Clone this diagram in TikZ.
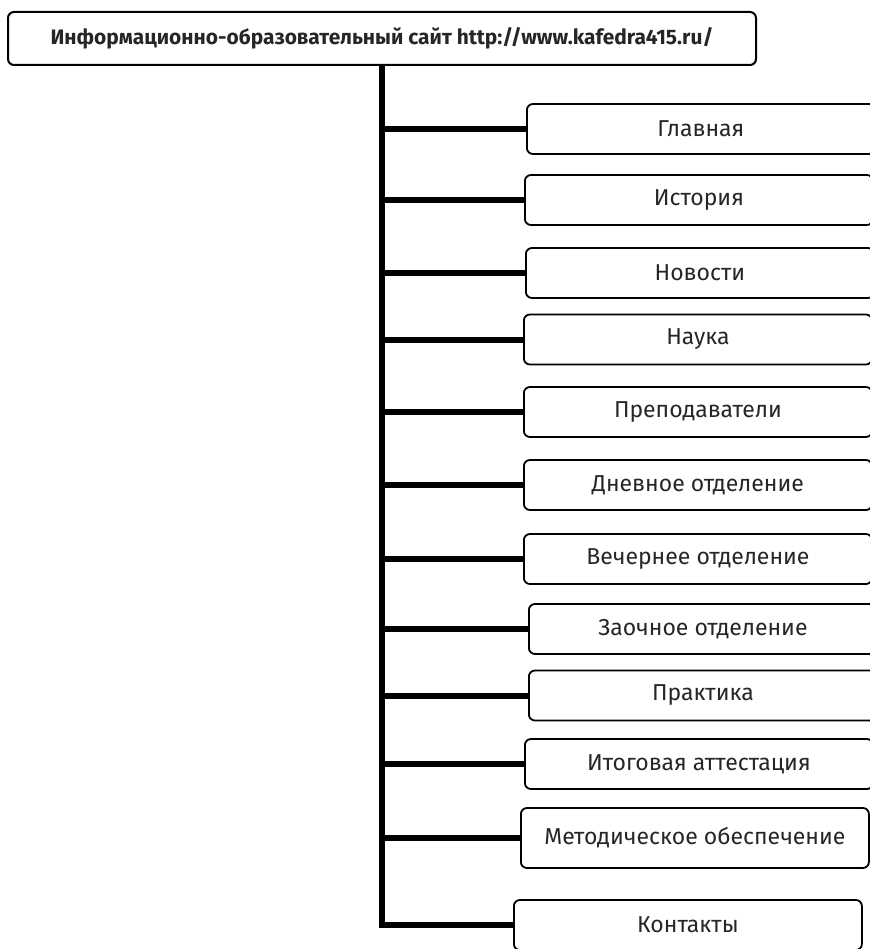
\documentclass[tikz,border=0pt]{standalone}
\usepackage{fontspec}
\setmainfont{Fira Sans}
\usetikzlibrary{positioning}
\tikzset{
  site/.style={draw, rounded corners=6pt, line width=2pt, align=center, minimum height=53pt, minimum width=748pt, font=\fontsize{20.9}{24}\selectfont\bfseries, text=black!85},
  item/.style={draw, rounded corners=6pt, line width=1.8pt, align=center, minimum height=50pt, minimum width=348pt, anchor=west, font=\fontsize{23}{26}\selectfont, text=black!85},
  trunk/.style={line width=6.5pt, line join=miter},
  branch/.style={line width=6pt}
}
\begin{document}
\begin{tikzpicture}[x=1pt, y=-1pt]
    \useasboundingbox (0,0) rectangle (869,949);
    \node[site] (site) at (382,38.5) {Информационно-образовательный сайт http://www.kafedra415.ru/};
    \node[item] (glav) at (526,129) {Главная};
    \node[item] (hist) at (524,200) {История};
    \node[item] (news) at (525,273) {Новости};
    \node[item] (sci) at (523,339.5) {Наука};
    \node[item] (teach) at (523,412) {Преподаватели};
    \node[item] (day) at (523,485) {Дневное отделение};
    \node[item] (eve) at (523,559) {Вечернее отделение};
    \node[item] (ext) at (528,629) {Заочное отделение};
    \node[item] (prac) at (528,695.5) {Практика};
    \node[item] (final) at (524,764) {Итоговая аттестация};
    \node[item, minimum height=60pt] (meth) at (520,838) {Методическое обеспечение};
    \node[item] (cont) at (513,925) {Контакты};

    \draw[trunk] (site.south) -- (site.south |- cont.west) -- (cont.west);
    \draw[branch] (site.south |- glav.west) -- (glav.west);
    \draw[branch] (site.south |- hist.west) -- (hist.west);
    \draw[branch] (site.south |- news.west) -- (news.west);
    \draw[branch] (site.south |- sci.west) -- (sci.west);
    \draw[branch] (site.south |- teach.west) -- (teach.west);
    \draw[branch] (site.south |- day.west) -- (day.west);
    \draw[branch] (site.south |- eve.west) -- (eve.west);
    \draw[branch] (site.south |- ext.west) -- (ext.west);
    \draw[branch] (site.south |- prac.west) -- (prac.west);
    \draw[branch] (site.south |- final.west) -- (final.west);
    \draw[branch] (site.south |- meth.west) -- (meth.west);
\end{tikzpicture}
\end{document}
